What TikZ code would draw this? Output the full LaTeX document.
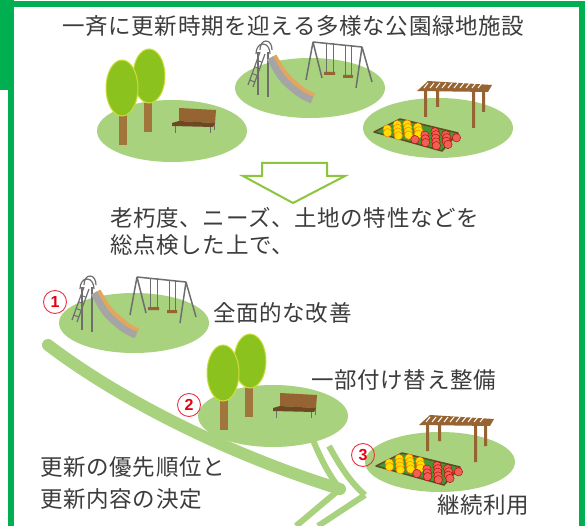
\documentclass[tikz,border=0pt]{standalone}
\usepackage{fontspec}
\newfontfamily\jp[LetterSpace=3.0]{Noto Sans CJK JP}
\newfontfamily\numfont{Liberation Sans}
\usetikzlibrary{calc}

\definecolor{frame}{RGB}{0,176,80}
\definecolor{lawn}{RGB}{168,210,125}
\definecolor{leaf}{RGB}{140,194,30}
\definecolor{leafedge}{RGB}{205,222,60}
\definecolor{trunk}{RGB}{160,118,60}
\definecolor{wood}{RGB}{150,100,50}
\definecolor{wooddark}{RGB}{110,72,35}
\definecolor{steel}{RGB}{110,110,110}
\definecolor{slidegray}{RGB}{165,165,165}
\definecolor{slideedge}{RGB}{228,165,95}
\definecolor{arrowgreen}{RGB}{140,198,63}
\definecolor{ink}{RGB}{60,60,60}
\definecolor{numred}{RGB}{230,0,18}
\definecolor{soil}{RGB}{95,75,40}
\definecolor{bedgreen}{RGB}{70,150,50}
\definecolor{flowery}{RGB}{255,222,0}
\definecolor{flowerr}{RGB}{240,95,85}

\tikzset{
  label/.style={anchor=west, inner sep=0pt, text=ink, font=\jp\fontsize{22.5}{27}\selectfont},
  numbadge/.style={circle, draw=numred!80, line width=0.9pt, minimum size=23pt, inner sep=0pt,
    text=numred, font=\numfont\bfseries\fontsize{16}{16}\selectfont},
  band/.style={lawn, line width=12pt, line cap=round},
  strand/.style={lawn, line width=6pt},
  % lawn with two trees and a bench
  trees/.pic={
    \fill[lawn] (0,0) ellipse[x radius=75pt, y radius=31pt];
    \fill[trunk] (-28,-28) rectangle (-20,1);
    \draw[leafedge, fill=leaf, line width=1pt] (-23,-55) ellipse[x radius=16pt, y radius=27pt];
    \fill[trunk] (-53,-16) rectangle (-45,14);
    \draw[leafedge, fill=leaf, line width=1pt] (-50,-43) ellipse[x radius=16pt, y radius=28pt];
    \draw[steel, line width=1pt] (3,-5) -- (3,2) (38,-5) -- (38,2) (42,-8) -- (42,-1);
    \fill[wood] (7,-23) -- (44,-21) -- (43,-8) -- (7,-10) -- cycle;
    \fill[wooddark] (0,-8) -- (7,-10) -- (43,-8) -- (41,-4) -- (0,-5) -- cycle;
  },
  % lawn with a slide and a swing
  playground/.pic={
    \fill[lawn] (0,0) ellipse[x radius=75pt, y radius=30pt];
    \draw[steel, line width=1.5pt] (-52,-36) -- (-52,7) (-42,-36) -- (-42,9);
    \draw[steel, line width=1.2pt] (-54,-34) to[out=90,in=180] (-47,-44) to[out=0,in=90] (-40,-34);
    \draw[steel, line width=1.2pt] (-50,-38) to[out=90,in=180] (-44,-47) to[out=0,in=90] (-38,-38);
    \draw[steel, line width=1.2pt] (-62,-3) -- (-50,-36) (-57,-1) -- (-45,-34);
    \foreach \k in {0.15,0.35,0.55,0.75}
      \draw[steel, line width=1pt] ($(-62,-3)!\k!(-50,-36)$) -- ($(-57,-1)!\k!(-45,-34)$);
    \draw[slideedge, line width=10pt] (-38,-31) to[out=-60,in=140] (-18,-4) to[out=-40,in=160] (3,10);
    \draw[slidegray, line width=7pt] (-40,-30) to[out=-60,in=140] (-20,-2) to[out=-40,in=160] (2,12);
    \draw[steel, line width=1.5pt] (3,-46) -- (52,-41);
    \draw[steel, line width=1.5pt] (3,-46) -- (-4,-8) (3,-46) -- (12,-10) (52,-41) -- (46,0) (52,-41) -- (62,-6);
    \draw[steel, line width=0.8pt] (16,-45) -- (16,-15) (23,-45) -- (23,-14) (35,-43) -- (35,-12) (41,-43) -- (41,-11);
    \fill[wood] (14,-16) rectangle (25,-13) (33,-13) rectangle (43,-10);
  },
  % lawn with a pergola and a flower bed
  flowerbed/.pic={
    \fill[lawn] (0,0) ellipse[x radius=75pt, y radius=30pt];
    \fill[wood] (-2,-41) rectangle (1,-21) (44,-41) rectangle (47,-16);
    \draw[soil, fill=bedgreen, line width=1.5pt, line join=round] (-64,4) -- (-38,-9) -- (20,5) -- (4,23) -- cycle;
    \foreach \s/\t in {0.07/0.3,0.07/0.7,0.15/0.1,0.15/0.5,0.15/0.88,0.23/0.3,0.23/0.7,0.31/0.1,0.31/0.5,0.31/0.88,0.39/0.3,0.39/0.7,0.46/0.5}
      \draw[orange!90!red, fill=flowery, line width=0.4pt] ({-63+67*\s+25*\t},{3+19*\s-11*\t}) circle (4.2pt);
    \foreach \s/\t in {0.54/0.15,0.54/0.55,0.56/0.9,0.62/0.35,0.63/0.75,0.7/0.15,0.7/0.55,0.72/0.9,0.78/0.35,0.79/0.75,0.86/0.15,0.86/0.55,0.88/0.9,0.94/0.4}
      \draw[red!70!black, fill=flowerr, line width=0.4pt] ({-63+67*\s+25*\t},{3+19*\s-11*\t}) circle (4.2pt);
    \fill[wood] (-14,-38) rectangle (-11,-11) (34,-37) rectangle (37,0);
    \fill[wood] (-21,-37) -- (-10,-47) -- (54,-43) -- (50,-36) -- cycle;
    \foreach \u in {0,...,9}
      \draw[white, line width=1pt] ({-10+6*\u},-45) -- ({-14+6*\u},-40);
  }
}

\begin{document}
\begin{tikzpicture}[x=1pt, y=-1pt]
  \useasboundingbox (0,0) rectangle (588,526);
  \fill[white] (0,0) rectangle (588,526);

  % frame
  \fill[frame] (0,0) rectangle (14,90);
  \fill[frame] (10,1) rectangle (585,7);
  \fill[frame] (579,1) rectangle (585,526);
  \fill[frame] (8,88) rectangle (14,526);

  % upper row of facilities
  \pic at (172,131) {trees};
  \pic at (310,88) {playground};
  \pic at (438,128) {flowerbed};
  \node[label] (title) at (62,26) {一斉に更新時期を迎える多様な公園緑地施設};

  % hollow down arrow
  \draw[arrowgreen, line width=2pt, fill=white, line join=miter]
    (262,163) -- (327,163) -- (327,176) -- (345,176) -- (293,203) -- (243,176) -- (262,176) -- cycle;

  \node[label] (check1) at (110,218) {老朽度、ニーズ、土地の特性などを};
  \node[label] (check2) at (110,245) {総点検した上で、};

  % lower row: one route per facility
  \pic at (134,323) {playground};
  \pic at (273,416) {trees};
  \pic at (440,462) {flowerbed};

  % sweeping arrow with a double chevron head
  \coordinate (sweepstart) at (48,345);
  \coordinate (tipinner) at (340,489);
  \coordinate (tipouter) at (365,495);
  \draw[band] (sweepstart) .. controls (120,400) and (230,455) .. (tipinner);
  \draw[strand] (313,440) .. controls (322,462) and (330,476) .. (tipinner);
  \draw[strand] (296,526) -- (tipinner);
  \draw[strand] (329,446) .. controls (340,466) and (350,482) .. (tipouter);
  \draw[strand] (318,526) -- (tipouter);

  \node[numbadge] (n1) at (55,302) {1};
  \node[numbadge] (n2) at (189,405) {2};
  \node[numbadge] (n3) at (363,455) {3};

  \node[label] (full) at (213,313) {全面的な改善};
  \node[label] (part) at (311,380) {一部付け替え整備};
  \node[label] (keep) at (437,505) {継続利用};
  \node[label] (prio1) at (40,467) {更新の優先順位と};
  \node[label] (prio2) at (40,499) {更新内容の決定};
\end{tikzpicture}
\end{document}
